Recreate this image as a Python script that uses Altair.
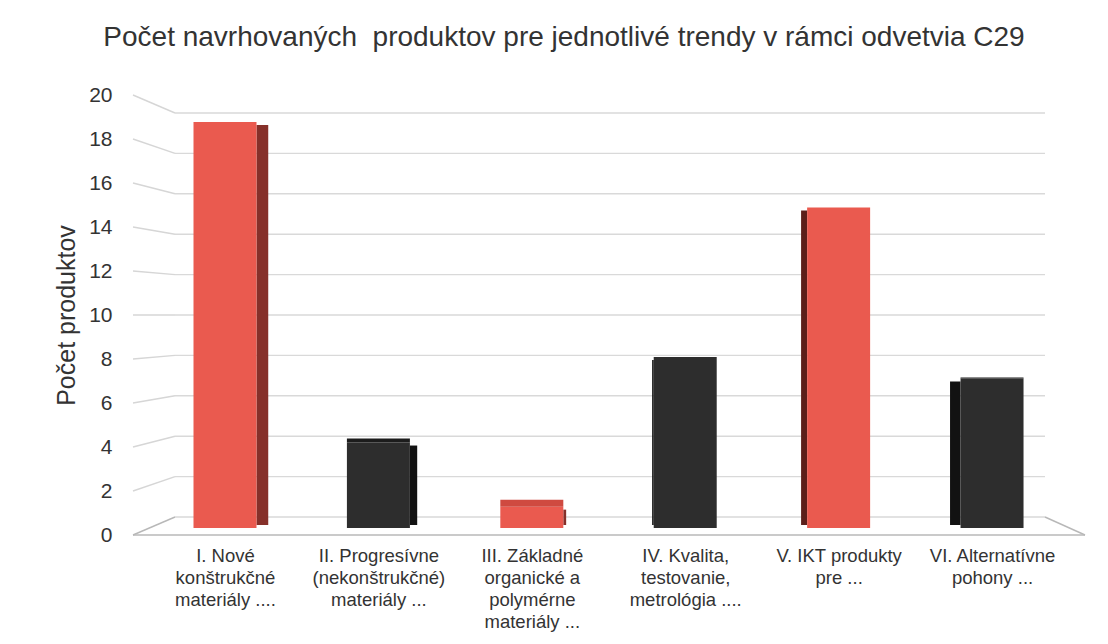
import json
import altair as alt
import pandas as pd

# ---- data ----
cat_lines = [
    ["I. Nové", "konštrukčné", "materiály ...."],
    ["II. Progresívne", "(nekonštrukčné)", "materiály ..."],
    ["III. Základné", "organické a", "polymérne", "materiály ..."],
    ["IV. Kvalita,", "testovanie,", "metrológia ...."],
    ["V. IKT produkty", "pre ..."],
    ["VI. Alternatívne", "pohony ..."],
]
values = [19, 4, 1, 8, 15, 7]
y_ticks = list(range(0, 21, 2))

title_text = "Počet navrhovaných\u00a0 produktov pre jednotlivé trendy v rámci odvetvia C29"
y_title = "Počet produktov"

df = pd.DataFrame({"i": list(range(len(values))), "value": values})
grid = pd.DataFrame({"t": y_ticks})

FONT = "Liberation Sans"
TXT = "#333333"
W, H = 952, 440

xs = alt.Scale(domain=[-0.5997, 5.606], nice=False, zero=False)
ys = alt.Scale(domain=[0, 20], nice=False, zero=False)

y_axis = alt.Axis(
    values=y_ticks,
    grid=False,
    domain=False,
    ticks=False,
    labelFont=FONT,
    labelFontSize=21,
    labelColor=TXT,
    labelPadding=21,
    labelOverlap=False,
    labelFlush=False,
    title=y_title,
    titleFont=FONT,
    titleFontSize=25,
    titleFontWeight="normal",
    titleColor=TXT,
    titlePadding=9,
)

label_expr = json.dumps(cat_lines, ensure_ascii=False) + "[datum.value]"
x_axis = alt.Axis(
    values=list(range(len(values))),
    labelExpr=label_expr,
    grid=False,
    domain=False,
    ticks=False,
    labelFont=FONT,
    labelFontSize=18.5,
    labelLineHeight=22,
    labelColor=TXT,
    labelPadding=11,
    labelAngle=0,
    labelOverlap=False,
    labelFlush=False,
    labelLimit=300,
    title=None,
)

red_test = "datum.i % 2 == 0"

# ---- perspective grid ----
gbase = alt.Chart(grid).transform_calculate(ub="0.818 + 0.9182*datum.t")

slant = gbase.mark_rule(strokeWidth=1.4).encode(
    x=alt.value(0),
    x2=alt.value(42),
    y=alt.Y("t:Q", scale=ys, axis=y_axis),
    y2="ub:Q",
    color=alt.condition("datum.t == 0", alt.value("#b8b8b8"), alt.value("#d6d6d6")),
)

back = gbase.mark_rule(strokeWidth=1.4, color="#d9d9d9").encode(
    x=alt.value(42),
    x2=alt.value(912),
    y=alt.Y("ub:Q", scale=ys, axis=y_axis),
)

floor = gbase.transform_filter("datum.t == 0")
floor_front = floor.mark_rule(strokeWidth=1.4, color="#b8b8b8").encode(
    x=alt.value(0),
    x2=alt.value(W),
    y=alt.Y("t:Q", scale=ys, axis=y_axis),
)
floor_right = floor.mark_rule(strokeWidth=1.4, color="#b8b8b8").encode(
    x=alt.value(912),
    x2=alt.value(W),
    y=alt.Y("ub:Q", scale=ys, axis=y_axis),
    y2="t:Q",
)

# ---- bars ----
bbase = (
    alt.Chart(df)
    .transform_calculate(x0="datum.i - 0.2053")
    .transform_calculate(x1="datum.i + 0.2053")
    .transform_calculate(ut="0.318 + 0.9713*datum.value")
    .transform_calculate(base="0.318")
    .transform_calculate(d="(630 - (225 + 153.4*datum.i))*0.029/153.4")
    .transform_calculate(edge="datum.d > 0 ? datum.x1 : datum.x0")
    .transform_calculate(edge2="datum.edge + datum.d")
    .transform_calculate(st="datum.ut - 3/22")
    .transform_calculate(sb="0.318 + 3/22")
    .transform_calculate(tt="datum.ut + max(0, 8 - datum.value)/22")
)

side = bbase.mark_rect().encode(
    x=alt.X("edge:Q", scale=xs, axis=x_axis),
    x2="edge2:Q",
    y=alt.Y("sb:Q", scale=ys, axis=y_axis),
    y2="st:Q",
    color=alt.value(
        "#121212",
        condition=[
            {"test": red_test + " && datum.d > 0", "value": "#86302a"},
            {"test": red_test + " && datum.d <= 0", "value": "#5c1f1a"},
        ],
    ),
)

front = bbase.mark_rect().encode(
    x=alt.X("x0:Q", scale=xs, axis=x_axis),
    x2="x1:Q",
    y=alt.Y("base:Q", scale=ys, axis=y_axis),
    y2="ut:Q",
    color=alt.condition(red_test, alt.value("#ea5a4f"), alt.value("#2d2d2d")),
)

top = bbase.mark_rect().encode(
    x=alt.X("x0:Q", scale=xs, axis=x_axis),
    x2="x1:Q",
    y=alt.Y("ut:Q", scale=ys, axis=y_axis),
    y2="tt:Q",
    color=alt.condition(red_test, alt.value("#cf4a40"), alt.value("#1c1c1c")),
)

chart = (
    alt.layer(slant, back, floor_front, floor_right, side, front, top)
    .properties(
        width=W,
        height=H,
        padding={"left": 125, "top": 87, "right": 15, "bottom": 101},
        autosize=alt.AutoSizeParams(type="none"),
        title=alt.TitleParams(
            text=title_text,
            font=FONT,
            fontSize=28,
            fontWeight="normal",
            color=TXT,
            anchor="middle",
            frame="group",
            dx=-45,
            offset=4,
            baseline="bottom",
        ),
    )
    .configure(background="white", view=alt.ViewConfig(stroke="transparent"))
)

chart.save("out.html", embed_options={"renderer": "svg", "actions": False})
